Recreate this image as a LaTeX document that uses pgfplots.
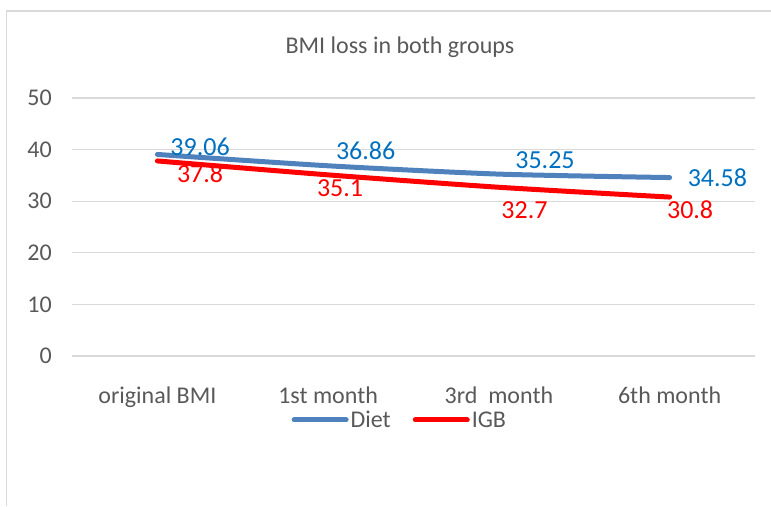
\documentclass[border=0pt]{standalone}
\usepackage{pgfplots}
\pgfplotsset{compat=1.18}
\usepackage{fontspec}
\setmainfont{Carlito}
\definecolor{dietblue}{HTML}{4F81BD}
\definecolor{igbred}{HTML}{FF0000}
\definecolor{lblblue}{HTML}{0070C0}
\definecolor{textgray}{HTML}{595959}
\definecolor{gridgray}{HTML}{D9D9D9}
\begin{document}
\begin{tikzpicture}[x=1pt,y=1pt]
\useasboundingbox (0,0) rectangle (771,506);
\draw[color=gridgray, line width=1.5pt] (6.5,0) -- (6.5,495) -- (771,495);
\node[text=textgray, font=\fontsize{24}{28}\selectfont] at (400,459) {BMI loss in both groups};
\begin{axis}[
  at={(72pt,150pt)}, anchor=south west,
  scale only axis, width=683pt, height=258pt,
  xmin=-0.5, xmax=3.5, ymin=0, ymax=50,
  ytick={0,10,20,30,40,50},
  xtick={0,1,2,3},
  xticklabels={original BMI, 1st month, 3rd\ \ month, 6th month},
  /pgf/number format/assume math mode=true,
  axis line style={draw=none},
  major tick style={draw=none},
  ymajorgrids, grid style={gridgray, line width=1.2pt},
  ticklabel style={font=\fontsize{24}{28}\selectfont, text=textgray},
  yticklabel style={inner sep=0pt, xshift=-20pt},
  xticklabel style={inner sep=0pt, anchor=north, yshift=-31pt},
  legend columns=2,
  legend style={at={(0.48,-0.248)}, anchor=center, draw=none, fill=none,
    font=\fontsize{24}{28}\selectfont, text=textgray,
    /tikz/every even column/.append style={column sep=20pt}},
  legend cell align=left,
  legend image code/.code={\draw[#1, line width=5pt, line cap=round] (0pt,0pt) -- (52pt,0pt);},
  clip=false,
]
\addplot[dietblue, line width=5pt, smooth, tension=0.4, line cap=round] coordinates {(0,39.06) (1,36.86) (2,35.25) (3,34.58)};
\addlegendentry{Diet}
\addplot[igbred, line width=5pt, smooth, tension=0.4, line cap=round] coordinates {(0,37.8) (1,35.1) (2,32.7) (3,30.8)};
\addlegendentry{IGB}
\begin{scope}[every node/.style={font=\fontsize{26}{30}\selectfont}]
\node[text=lblblue] at (axis cs:0.25,40.5) {39.06};
\node[text=lblblue] at (axis cs:1.22,39.7) {36.86};
\node[text=lblblue] at (axis cs:2.27,38.0) {35.25};
\node[text=lblblue] at (axis cs:3.28,34.5) {34.58};
\node[text=igbred] at (axis cs:0.25,35.3) {37.8};
\node[text=igbred] at (axis cs:1.07,32.6) {35.1};
\node[text=igbred] at (axis cs:2.15,28.3) {32.7};
\node[text=igbred] at (axis cs:3.12,28.3) {30.8};
\end{scope}
\end{axis}
\end{tikzpicture}
\end{document}
